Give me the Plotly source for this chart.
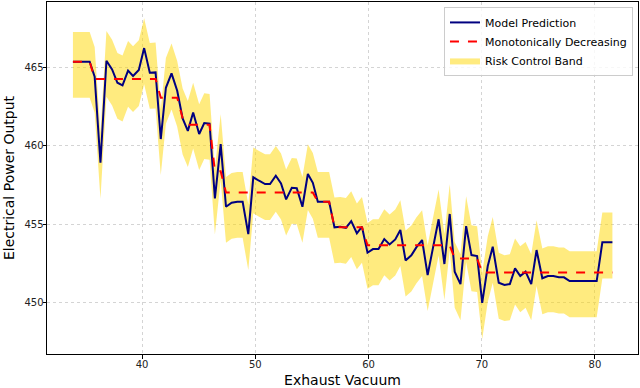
import plotly.graph_objs as go

# values
vacuum = [33.89, 34.64, 35.37, 35.81, 36.32, 36.85, 37.35, 37.82, 38.27, 38.76,
          39.20, 39.71, 40.18, 40.68, 41.19, 41.65, 42.10, 42.60, 43.10, 43.58,
          44.04, 44.51, 45.04, 45.49, 45.96, 46.43, 46.94, 47.41, 47.91, 48.41,
          48.88, 49.38, 49.82, 50.33, 50.86, 51.30, 51.81, 52.27, 52.72, 53.22,
          53.66, 54.16, 54.64, 55.08, 55.52, 56.02, 56.52, 56.99, 57.50, 58.00,
          58.47, 58.97, 59.42, 59.91, 60.39, 60.88, 61.39, 61.86, 62.36, 62.81,
          63.27, 63.78, 64.22, 64.73, 65.22, 65.70, 66.19, 66.70, 67.17, 67.61,
          68.12, 68.62, 69.09, 69.59, 70.04, 70.53, 70.97, 71.50, 72.01, 72.48,
          72.94, 73.40, 73.87, 74.37, 74.84, 75.35, 75.84, 76.32, 76.81, 77.26,
          77.76, 78.25, 78.74, 79.22, 79.71, 80.15, 80.65, 81.10, 81.54]

prediction = [465.37, 465.37, 465.37, 464.41, 458.93, 465.43, 464.88, 464.03, 463.86, 464.80,
              464.46, 464.84, 466.24, 464.67, 464.69, 460.44, 463.71, 464.63, 463.52, 461.76,
              460.96, 462.13, 460.76, 461.46, 461.42, 456.65, 460.12, 456.12, 456.38, 456.44,
              456.44, 454.38, 458.00, 457.78, 457.57, 457.57, 458.10, 457.61, 456.59, 457.33,
              457.30, 456.12, 458.21, 457.65, 456.44, 456.44, 456.44, 454.81, 454.85, 454.78,
              455.21, 454.43, 454.85, 453.19, 453.42, 453.42, 454.06, 453.72, 454.04, 454.64,
              452.70, 453.02, 453.53, 454.00, 451.77, 453.53, 455.32, 452.47, 455.66, 451.98,
              451.19, 454.89, 453.04, 452.98, 449.99, 452.34, 453.57, 451.28, 451.13, 451.19,
              452.19, 451.70, 451.98, 451.19, 453.36, 451.56, 451.70, 451.70, 451.62, 451.62,
              451.38, 451.38, 451.38, 451.38, 451.38, 451.38, 453.85, 453.85, 453.85]

monotone = [465.37, 465.37, 465.37, 464.27, 464.27, 464.27, 464.27, 464.27, 464.27, 464.27,
            464.27, 464.27, 464.27, 464.27, 464.27, 463.08, 463.08, 463.08, 463.08, 461.76,
            461.35, 461.35, 461.35, 461.35, 461.35, 458.39, 458.39, 457.03, 457.03, 457.03,
            457.03, 457.03, 457.03, 457.03, 457.03, 457.03, 457.03, 457.03, 457.03, 457.03,
            457.03, 457.03, 457.03, 457.03, 456.44, 456.44, 456.44, 454.82, 454.82, 454.82,
            454.82, 454.82, 454.82, 453.66, 453.66, 453.66, 453.66, 453.66, 453.66, 453.66,
            453.66, 453.66, 453.66, 453.66, 453.66, 453.66, 453.66, 453.66, 453.66, 452.82,
            452.82, 452.82, 452.82, 452.82, 451.92, 451.92, 451.92, 451.92, 451.92, 451.92,
            451.92, 451.92, 451.92, 451.92, 451.92, 451.92, 451.92, 451.92, 451.92, 451.92,
            451.92, 451.92, 451.92, 451.92, 451.92, 451.92, 451.92, 451.92, 451.92]

band_upper = [467.27, 467.27, 467.27, 466.31, 460.83, 467.33, 466.78, 465.93, 465.76, 466.70,
              466.36, 466.74, 468.14, 466.57, 466.59, 462.34, 465.61, 466.53, 465.42, 463.66,
              462.86, 464.03, 462.66, 463.36, 463.32, 458.55, 462.02, 458.02, 458.28, 458.34,
              458.34, 456.28, 459.90, 459.68, 459.47, 459.47, 460.00, 459.51, 458.49, 459.23,
              459.20, 458.02, 460.11, 459.55, 458.34, 458.34, 458.34, 456.71, 456.75, 456.68,
              457.11, 456.33, 456.75, 455.09, 455.32, 455.32, 455.96, 455.62, 455.94, 456.54,
              454.60, 454.92, 455.43, 455.90, 453.67, 455.43, 457.22, 454.37, 457.56, 453.88,
              453.09, 456.79, 454.94, 454.88, 451.89, 454.24, 455.47, 453.18, 453.03, 453.09,
              454.09, 453.60, 453.88, 453.09, 455.26, 453.46, 453.60, 453.60, 453.52, 453.52,
              453.28, 453.28, 453.28, 453.28, 453.28, 453.28, 455.75, 455.75, 455.75]

band_lower = [463.07, 463.07, 463.07, 462.11, 456.63, 463.13, 462.58, 461.73, 461.56, 462.50,
              462.16, 462.54, 463.94, 462.37, 462.39, 458.14, 461.41, 462.33, 461.22, 459.46,
              458.66, 459.83, 458.46, 459.16, 459.12, 454.35, 457.82, 453.82, 454.08, 454.14,
              454.14, 452.08, 455.70, 455.48, 455.27, 455.27, 455.80, 455.31, 454.29, 455.03,
              455.00, 453.82, 455.91, 455.35, 454.14, 454.14, 454.14, 452.51, 452.55, 452.48,
              452.91, 452.13, 452.55, 450.89, 451.12, 451.12, 451.76, 451.42, 451.74, 452.34,
              450.40, 450.72, 451.23, 451.70, 449.47, 451.23, 453.02, 450.17, 453.36, 449.68,
              448.89, 452.59, 450.74, 450.68, 447.69, 450.04, 451.27, 448.98, 448.83, 448.89,
              449.89, 449.40, 449.68, 448.89, 451.06, 449.26, 449.40, 449.40, 449.32, 449.32,
              449.08, 449.08, 449.08, 449.08, 449.08, 449.08, 451.55, 451.55, 451.55]

x_ticks = [40, 50, 60, 70, 80]
y_ticks = [450, 455, 460, 465]

# band first so the lines sit on top
lower = go.Scatter(x=vacuum, y=band_lower, mode='lines', line=dict(width=0),
                   showlegend=False, hoverinfo='skip')
upper = go.Scatter(x=vacuum, y=band_upper, mode='lines', line=dict(width=0),
                   fill='tonexty', fillcolor='rgba(255,215,0,0.5)',
                   name='Risk Control Band', legendrank=3)
pred = go.Scatter(x=vacuum, y=prediction, mode='lines',
                  line=dict(color='#000080', width=2),
                  name='Model Prediction', legendrank=1)
mono = go.Scatter(x=vacuum, y=monotone, mode='lines',
                  line=dict(color='red', width=2, dash='dash'),
                  name='Monotonically Decreasing', legendrank=2)

axis_style = dict(showline=True, mirror=True, linecolor='black', linewidth=1,
                  ticks='outside', ticklen=3.5, tickcolor='black',
                  showgrid=True, gridcolor='#d4d4d4', gridwidth=1, griddash='dot',
                  zeroline=False, tickfont=dict(size=10, color='#222'),
                  ticklabelstandoff=-3)

layout = go.Layout(
    width=640, height=388,
    margin=dict(l=47, r=2, t=2, b=34),
    paper_bgcolor='white', plot_bgcolor='white',
    font=dict(family='DejaVu Sans', color='black'),
    xaxis=dict(range=[31.6, 83.8], tickvals=x_ticks,
               title=dict(text='Exhaust Vacuum', font=dict(size=14), standoff=6),
               **axis_style),
    yaxis=dict(range=[446.73, 469.18], tickvals=y_ticks,
               title=dict(text='Electrical Power Output', font=dict(size=14), standoff=6),
               **axis_style),
    legend=dict(x=0.9915, y=0.986, xanchor='right', yanchor='top',
                traceorder='normal',
                bgcolor='rgba(255,255,255,0.8)', bordercolor='#cccccc', borderwidth=1,
                font=dict(size=11), tracegroupgap=0),
)

fig = go.Figure(data=[lower, upper, pred, mono], layout=layout)
# page body has a default 8px margin; drop it so the figure sits at the corner
fig.write_html("out.html", config={'displayModeBar': False},
               post_script="document.body.style.margin='0';")
